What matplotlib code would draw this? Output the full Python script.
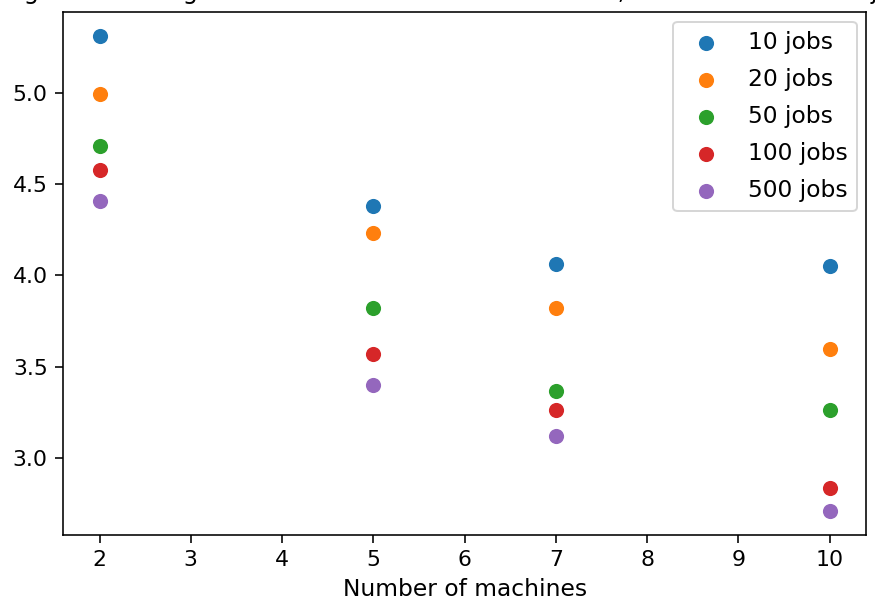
import matplotlib
matplotlib.use("Agg")
import matplotlib.pyplot as plt

machines = [2, 5, 7, 10]
job_labels = ["10 jobs", "20 jobs", "50 jobs", "100 jobs", "500 jobs"]
ratios = {
    "10 jobs":  [5.31, 4.38, 4.065, 4.054],
    "20 jobs":  [4.995, 4.233, 3.82, 3.597],
    "50 jobs":  [4.706, 3.82, 3.37, 3.266],
    "100 jobs": [4.575, 3.568, 3.266, 2.836],
    "500 jobs": [4.406, 3.40, 3.12, 2.71],
}
colors = ["#1f77b4", "#ff7f0e", "#2ca02c", "#d62728", "#9467bd"]

FS = 11.7

fig = plt.figure(figsize=(875 / 144, 612 / 144), dpi=144)
ax = fig.add_axes([0.072, 0.126, 0.918, 0.854])

for label, col in zip(job_labels, colors):
    ax.scatter(machines, ratios[label], s=72, color=col,
               edgecolors="white", linewidths=0.9, label=label, zorder=3)

ax.set_xlabel("Number of machines", fontsize=FS)
ax.tick_params(labelsize=11, length=4.1)
ax.legend(loc="upper right", fontsize=FS, labelspacing=0.6, borderaxespad=0.4)

# title sits mostly above the saved canvas, as in the cropped original
fig.text(0.5, 1.0015, "Average ratio change for different number of machines, for each number of jobs",
         ha="center", va="baseline", fontsize=12)

fig.savefig("out.png", dpi=144)
